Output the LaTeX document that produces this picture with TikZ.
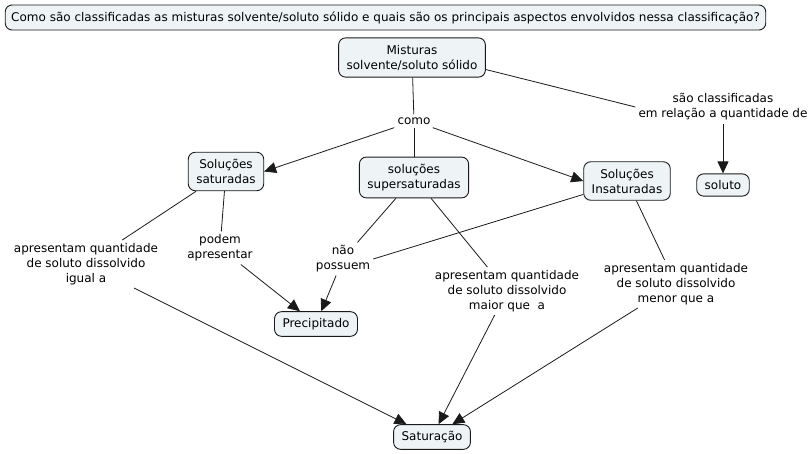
\documentclass[tikz,border=0pt]{standalone}
\usepackage{fontspec}
\setmainfont{DejaVu Sans}
\usetikzlibrary{arrows.meta,positioning}
\definecolor{MapFill}{HTML}{EEF4F6}
\definecolor{MapLine}{HTML}{1A1A1A}

\begin{document}
\begin{tikzpicture}[x=1pt,y=-1pt,
    concept/.style={draw=MapLine,fill=MapFill,rounded corners=7pt,line width=0.9pt,
      align=center,inner xsep=8pt,inner ysep=7pt,font=\fontsize{12}{15}\selectfont},
    linkword/.style={align=center,inner sep=3pt,font=\fontsize{12}{15}\selectfont},
    link/.style={draw=MapLine,line width=0.8pt},
    arrow/.style={link,-{Triangle[length=12pt,width=11pt]}}]
  \useasboundingbox (0,0) rectangle (811,453);
  % concepts
  \node[concept,inner xsep=6pt,inner ysep=6.5pt] (question) at (385.5,17.5) {Como são classificadas as misturas solvente/soluto sólido e quais são os principais aspectos envolvidos nessa classificação?};
  \node[concept] (misturas) at (412,57.5) {Misturas\\solvente/soluto sólido};
  \node[concept] (saturadas) at (226,171.5) {Soluções\\saturadas};
  \node[concept] (super) at (414,177.5) {soluções\\supersaturadas};
  \node[concept] (insat) at (627,181) {Soluções\\Insaturadas};
  \node[concept,inner ysep=6.5pt] (soluto) at (723,185) {soluto};
  \node[concept,inner ysep=6.5pt] (precip) at (316,324) {Precipitado};
  \node[concept,inner ysep=6.5pt] (saturacao) at (432,437) {Saturação};
  % linking words
  \node[linkword] (como) at (414,121) {como};
  \node[linkword] (classif) at (723,107) {são classificadas\\em relação a quantidade de};
  \node[linkword] (igual) at (86,264) {apresentam quantidade\\de soluto dissolvido\\igual a};
  \node[linkword] (podem) at (220,248) {podem\\apresentar};
  \node[linkword] (naoposs) at (343,259) {não\\possuem};
  \node[linkword] (maior) at (507,291) {apresentam quantidade\\de soluto dissolvido\\maior que\ \ a};
  \node[linkword] (menor) at (676,284) {apresentam quantidade\\de soluto dissolvido\\menor que a};
  % connectors
  \draw[link] (misturas) -- (como);
  \draw[link] (misturas.east) ++(0,12) -- (classif.west);
  \draw[arrow] (classif) -- (soluto);
  \draw[arrow] (como) -- (saturadas.east);
  \draw[link] (como) -- (super);
  \draw[arrow] (como) -- (insat.west);
  \draw[link] (saturadas) -- (igual);
  \draw[link] (saturadas) -- (podem);
  \draw[arrow] (podem) -- (precip);
  \draw[link] (super) -- (naoposs);
  \draw[link] (insat) -- (naoposs.east);
  \draw[arrow] (naoposs) -- (precip);
  \draw[link] (super) -- (maior);
  \draw[link] (insat) -- (menor);
  \draw[arrow] (igual) -- (saturacao);
  \draw[arrow] (maior) -- (saturacao);
  \draw[arrow] (menor) -- (saturacao);
\end{tikzpicture}
\end{document}
